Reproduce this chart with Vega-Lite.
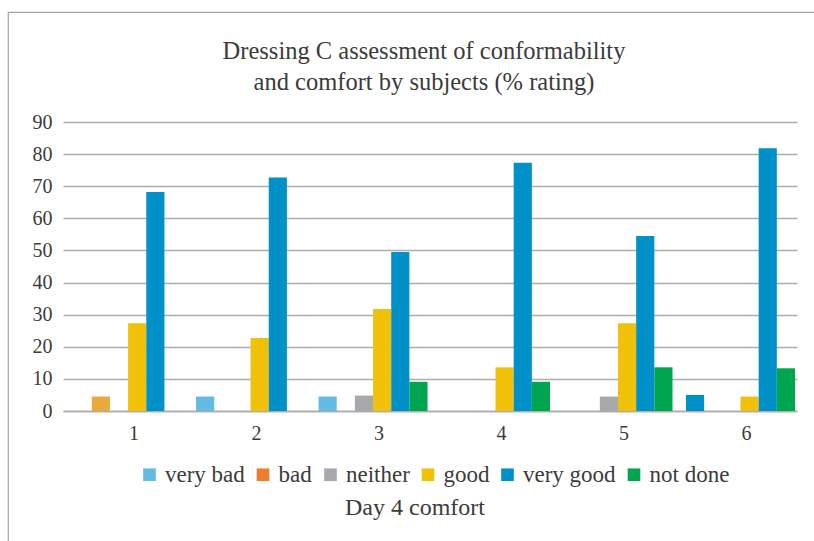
{
  "$schema": "https://vega.github.io/schema/vega-lite/v6.json",
  "width": 808,
  "height": 531,
  "autosize": {"type": "none"},
  "padding": {"left": 8, "top": 12, "right": -2, "bottom": -2},
  "background": "white",
  "config": {
    "font": "Liberation Serif",
    "view": {"stroke": "#A6A6A6", "strokeWidth": 1.2},
    "axis": {"labelFont": "Liberation Serif", "titleFont": "Liberation Serif"},
    "legend": {"labelFont": "Liberation Serif", "titleFont": "Liberation Serif", "padding": 0},
    "title": {"font": "Liberation Serif"}
  },
  "title": {
    "text": ["Dressing C assessment of conformability", "and comfort by subjects (% rating)"],
    "font": "Liberation Serif",
    "fontSize": 24.5,
    "fontWeight": "normal",
    "color": "#3b3b3b",
    "frame": "group",
    "anchor": "middle",
    "offset": -107,
    "baseline": "bottom",
    "lineHeight": 31,
    "dx": 12
  },
  "data": {
    "values": [
      {"day": 1, "rating": "bad", "value": 4.5},
      {"day": 1, "rating": "good", "value": 27.3},
      {"day": 1, "rating": "very good", "value": 68.2},
      {"day": 2, "rating": "very bad", "value": 4.5},
      {"day": 2, "rating": "good", "value": 22.7},
      {"day": 2, "rating": "very good", "value": 72.7},
      {"day": 3, "rating": "very bad", "value": 4.5},
      {"day": 3, "rating": "neither", "value": 4.8},
      {"day": 3, "rating": "good", "value": 31.8},
      {"day": 3, "rating": "very good", "value": 49.5},
      {"day": 3, "rating": "not done", "value": 9.1},
      {"day": 4, "rating": "good", "value": 13.6},
      {"day": 4, "rating": "very good", "value": 77.3},
      {"day": 4, "rating": "not done", "value": 9.1},
      {"day": 5, "rating": "neither", "value": 4.5},
      {"day": 5, "rating": "good", "value": 27.3},
      {"day": 5, "rating": "very good", "value": 54.5},
      {"day": 5, "rating": "not done", "value": 13.6},
      {"day": 6, "rating": "very bad", "value": 5.0},
      {"day": 6, "rating": "good", "value": 4.5},
      {"day": 6, "rating": "very good", "value": 81.8},
      {"day": 6, "rating": "not done", "value": 13.3}
    ]
  },
  "mark": {"type": "bar"},
  "encoding": {
    "x": {
      "field": "day",
      "type": "ordinal",
      "scale": {"range": [55, 789], "paddingInner": 0.11, "paddingOuter": 0.0515, "align": 0.84},
      "axis": {
        "orient": "bottom",
        "offset": -132,
        "domain": true,
        "domainColor": "#ACACAC",
        "domainWidth": 1.3,
        "ticks": false,
        "grid": false,
        "labelAngle": 0,
        "labelFont": "Liberation Serif",
        "labelFontSize": 20,
        "labelPadding": 12,
        "labelOffset": 6,
        "labelColor": "#3b3b3b",
        "title": "Day 4 comfort",
        "titleFont": "Liberation Serif",
        "titleFontSize": 24,
        "titleFontWeight": "normal",
        "titleColor": "#3b3b3b",
        "titleX": 406.5,
        "titleY": 103,
        "titleBaseline": "alphabetic",
        "titleAlign": "center"
      }
    },
    "xOffset": {
      "field": "rating",
      "type": "nominal",
      "scale": {"domain": ["very bad", "bad", "neither", "good", "very good", "not done"], "paddingInner": 0, "paddingOuter": 0}
    },
    "y": {
      "field": "value",
      "type": "quantitative",
      "scale": {"domain": [0, 90], "range": [399, 110], "nice": false, "zero": true},
      "axis": {
        "offset": -54,
        "grid": true,
        "gridColor": "#ACACAC",
        "gridWidth": 1.3,
        "domain": false,
        "ticks": false,
        "labelPadding": 10,
        "labelFont": "Liberation Serif",
        "labelFontSize": 20,
        "labelColor": "#3b3b3b",
        "title": null,
        "values": [0, 10, 20, 30, 40, 50, 60, 70, 80, 90]
      }
    },
    "color": {
      "field": "rating",
      "type": "nominal",
      "condition": [
        {"test": "datum.day == 1 && datum.rating == 'bad'", "value": "#E9A93C"},
        {"test": "datum.day == 6 && datum.rating == 'very bad'", "value": "#0091C9"}
      ],
      "scale": {
        "domain": ["very bad", "bad", "neither", "good", "very good", "not done"],
        "range": ["#62BBE0", "#ED7D31", "#A7A9AC", "#F1C109", "#0091C9", "#00A550"]
      },
      "legend": {
        "orient": "none",
        "legendX": 130,
        "legendY": 451,
        "direction": "horizontal",
        "title": null,
        "symbolType": "square",
        "symbolSize": 160,
        "symbolStrokeWidth": 0,
        "labelFont": "Liberation Serif",
        "labelFontSize": 23,
        "labelOffset": 4,
        "columnPadding": 6.5,
        "labelColor": "#3b3b3b"
      }
    }
  }
}
